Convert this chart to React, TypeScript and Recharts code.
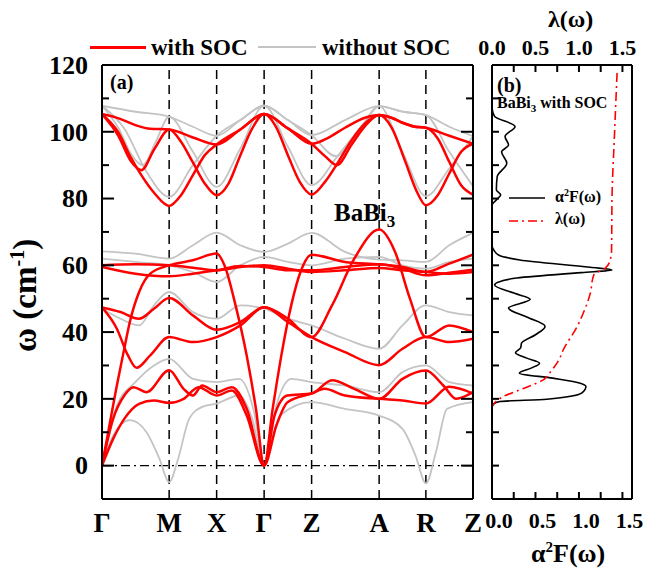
import React from 'react';
import { LineChart, Line, XAxis, YAxis, ReferenceLine } from 'recharts';

const FONT = '"Liberation Serif", "DejaVu Serif", "Times New Roman", serif';

// high-symmetry points along the path (fraction of path length)
const kPts = [0, 0.181, 0.309, 0.437, 0.565, 0.747, 0.873, 1];
const kLabels = ['Γ', 'M', 'X', 'Γ', 'Z', 'A', 'R', 'Z'];
const wTicks = [-10, 0, 10, 20, 30, 40, 50, 60, 70, 80, 90, 100, 110, 120];
const aTicks = [0, 0.25, 0.5, 0.75, 1, 1.25, 1.5];

// phonon branches with SOC, [k, omega]
const soc1 = [[0, 105.3], [0.045, 104], [0.09, 102], [0.13, 100.9], [0.181, 100.7], [0.245, 98.3], [0.309, 96.2], [0.373, 100.7], [0.437, 105.3], [0.501, 101], [0.565, 96.4], [0.601, 97.7], [0.655, 101.2], [0.709, 104.2], [0.747, 105], [0.78, 104.2], [0.81, 102.7], [0.84, 101.6], [0.873, 101.2], [0.936, 98.8], [1, 96.4]];
const soc2 = [[0, 105.3], [0.043, 99], [0.079, 91], [0.106, 88.5], [0.142, 95], [0.181, 100.7], [0.213, 97], [0.245, 90.8], [0.277, 84.5], [0.309, 81], [0.341, 84.5], [0.373, 93], [0.405, 101], [0.437, 105.3], [0.469, 101.5], [0.501, 93], [0.533, 85], [0.565, 81.2], [0.601, 85], [0.637, 91], [0.673, 97.5], [0.709, 102.5], [0.747, 105], [0.781, 101.2], [0.817, 91.2], [0.848, 82.2], [0.873, 78], [0.905, 81], [0.936, 87.5], [0.968, 94], [1, 96.4]];
const soc3 = [[0, 105.3], [0.043, 100], [0.079, 92], [0.106, 87], [0.142, 81.5], [0.181, 77.8], [0.213, 81], [0.245, 87], [0.277, 93], [0.309, 96.2], [0.373, 100.7], [0.437, 105.3], [0.501, 101], [0.565, 96.4], [0.601, 92.7], [0.633, 90], [0.673, 96.2], [0.709, 101.7], [0.747, 105], [0.78, 104.2], [0.81, 102.7], [0.84, 101.6], [0.873, 101.2], [0.905, 98], [0.936, 91], [0.968, 84], [1, 81.2]];
const socFlatA = [[0, 60], [0.09, 60.3], [0.181, 60], [0.245, 59.3], [0.309, 58.5], [0.373, 59.5], [0.437, 60], [0.501, 59], [0.565, 58], [0.655, 58.5], [0.747, 59.2], [0.81, 58.5], [0.873, 58], [0.936, 57.5], [1, 58]];
const socFlatB = [[0, 59.5], [0.09, 57.5], [0.181, 56.7], [0.245, 57.5], [0.309, 58.5], [0.373, 59.8], [0.437, 59.5], [0.501, 58.5], [0.565, 58.5], [0.655, 59.5], [0.747, 60.3], [0.81, 59], [0.873, 57], [0.936, 57.8], [1, 58.7]];
const socLA = [[0, 0], [0.02, 12], [0.04, 24], [0.06, 35], [0.075, 43], [0.1, 52], [0.13, 57.5], [0.181, 60], [0.245, 61.5], [0.309, 63.5], [0.33, 60], [0.36, 48], [0.39, 33], [0.415, 17], [0.437, 0], [0.46, 17], [0.485, 34], [0.51, 48], [0.535, 58], [0.565, 63.2], [0.655, 61], [0.747, 60.3], [0.81, 59.5], [0.873, 58], [0.936, 60.5], [1, 63.2]];
const socOptA = [[0, 47.4], [0.05, 46], [0.1, 44], [0.14, 47], [0.181, 50.2], [0.245, 45], [0.309, 40.7], [0.373, 43], [0.437, 47.4], [0.501, 44], [0.565, 38.5], [0.62, 48], [0.68, 62], [0.747, 70.7], [0.79, 64], [0.83, 50], [0.873, 38.5], [0.936, 42], [1, 40]];
const socOptB = [[0, 47.4], [0.04, 41], [0.07, 33], [0.093, 29.3], [0.13, 33], [0.181, 38.5], [0.245, 37], [0.309, 38.5], [0.373, 42], [0.437, 47.4], [0.501, 43], [0.565, 38.5], [0.655, 34], [0.747, 30.1], [0.81, 35], [0.873, 38.5], [0.936, 37], [1, 38]];
const socTA1 = [[0, 0], [0.03, 8], [0.06, 14], [0.1, 18.5], [0.14, 19.5], [0.181, 18.8], [0.22, 20], [0.26, 23.5], [0.309, 21], [0.35, 22.5], [0.39, 15], [0.437, 0], [0.47, 12], [0.5, 19], [0.565, 21.6], [0.6, 23], [0.655, 21], [0.747, 20], [0.81, 19.5], [0.873, 18.6], [0.936, 23.6], [1, 21.6]];
const socTA2 = [[0, 0], [0.03, 14], [0.06, 21], [0.085, 23.5], [0.12, 22], [0.181, 28.6], [0.22, 23], [0.245, 21], [0.27, 24], [0.309, 22], [0.35, 23.5], [0.39, 17], [0.437, 0], [0.465, 15], [0.5, 21], [0.565, 21.6], [0.62, 25.6], [0.68, 23], [0.747, 20], [0.81, 26], [0.873, 28.5], [0.92, 24], [0.955, 20], [1, 22]];

// branches without SOC
const noSoc1 = [[0, 107.8], [0.09, 106], [0.181, 104.5], [0.245, 101.5], [0.309, 98.8], [0.373, 103.5], [0.437, 107.8], [0.501, 103.5], [0.565, 99], [0.655, 103.5], [0.747, 107.7], [0.81, 106], [0.873, 105], [0.936, 101.5], [1, 98.7]];
const noSoc2 = [[0, 107.8], [0.045, 101], [0.08, 93], [0.11, 90], [0.145, 97], [0.181, 104.5], [0.245, 94], [0.309, 83.5], [0.373, 95], [0.437, 107.8], [0.501, 95.5], [0.565, 84], [0.637, 93], [0.709, 103], [0.747, 107.7], [0.81, 94], [0.873, 80.7], [0.936, 89], [1, 98.7]];
const noSoc3 = [[0, 107.8], [0.06, 101], [0.12, 88], [0.181, 80.5], [0.245, 90], [0.309, 98.8], [0.373, 103.5], [0.437, 107.8], [0.501, 103.5], [0.565, 99], [0.63, 92.7], [0.69, 100], [0.747, 107.7], [0.81, 106], [0.873, 105], [0.936, 94], [1, 83.7]];
const noSoc4 = [[0, 64.2], [0.09, 63.5], [0.181, 62], [0.245, 66], [0.309, 69.8], [0.373, 66], [0.437, 64], [0.501, 66.5], [0.565, 69.7], [0.655, 64], [0.747, 61.7], [0.81, 61.5], [0.873, 61], [0.936, 66], [1, 69.7]];
const noSoc5 = [[0, 62], [0.09, 61], [0.181, 60], [0.245, 58], [0.309, 55], [0.373, 60], [0.437, 62.5], [0.501, 61], [0.565, 60], [0.655, 62], [0.747, 62.5], [0.81, 60], [0.873, 59], [0.936, 61], [1, 62]];
const noSoc6 = [[0, 47], [0.05, 44], [0.1, 42], [0.14, 48], [0.181, 52], [0.245, 46], [0.309, 44], [0.373, 48], [0.437, 47], [0.501, 44], [0.565, 42], [0.655, 38], [0.747, 35], [0.81, 42], [0.873, 48], [0.936, 46], [1, 45]];
const noSoc7 = [[0, 0], [0.03, 9], [0.075, 13.6], [0.12, 10], [0.155, 2], [0.181, -5], [0.205, 2], [0.235, 14], [0.27, 17.6], [0.309, 18.6], [0.37, 21], [0.405, 14], [0.437, 0], [0.48, 15], [0.565, 19], [0.655, 17], [0.747, 15], [0.81, 11], [0.845, 3], [0.873, -5.3], [0.9, 4], [0.93, 17], [1, 19]];
const noSoc8 = [[0, 0], [0.04, 18], [0.09, 25], [0.14, 30], [0.181, 32], [0.245, 26], [0.309, 25], [0.37, 26], [0.41, 16], [0.437, 0], [0.47, 18], [0.51, 26], [0.565, 25], [0.655, 24], [0.747, 22], [0.81, 28], [0.873, 30], [0.936, 25], [1, 24]];

const socBands = [soc1, soc2, soc3, socFlatA, socFlatB, socLA, socOptA, socOptB, socTA1, socTA2];
const noSocBands = [noSoc1, noSoc2, noSoc3, noSoc4, noSoc5, noSoc6, noSoc7, noSoc8];

// Eliashberg function and lambda, [omega, value]
const a2F = [[17.5, 0], [18.5, 0.02], [19.2, 0.09], [19.9, 0.63], [21.7, 1.03], [23.7, 1.08], [24.7, 1.015], [26.2, 0.7], [27.7, 0.315], [29.2, 0.45], [30.7, 0.546], [32.2, 0.4], [33.8, 0.27], [35.3, 0.33], [36.7, 0.34], [39.2, 0.5], [41.7, 0.61], [44.5, 0.4], [47.2, 0.19], [49.8, 0.44], [51.6, 0.26], [54.1, 0.03], [56.1, 0.26], [57.8, 1.03], [58.6, 1.38], [59.4, 1.13], [61.6, 0.32], [63, 0.08], [64.6, 0.02], [66, 0], [78, 0], [79.6, 0.05], [81.1, 0.1], [82.6, 0.05], [86.6, 0.06], [90.6, 0.17], [94, 0.11], [96, 0.19], [98.6, 0.15], [101.6, 0.265], [104.6, 0.03], [107, 0]];
const lambda = [[0, 0], [17.5, 0], [18.5, 0.02], [19.9, 0.08], [20.7, 0.13], [22.5, 0.3], [24, 0.45], [25.7, 0.59], [27.7, 0.66], [31.7, 0.77], [34.7, 0.82], [41.7, 0.98], [45.7, 1.05], [51.6, 1.13], [57.1, 1.17], [59.1, 1.3], [61.6, 1.36], [64.6, 1.375], [80, 1.38], [100, 1.41], [118.5, 1.44]];

const toKW = (arr: number[][]) => arr.map(([k, w]) => ({ k, w }));
const toWA = (arr: number[][]) => arr.map(([w, a]) => ({ w, a }));

const PL = 102, PR = 473;
const QB = 499, QT = 65;

const LeftWTick = (props: any) => {
  const { y, payload } = props;
  const v = payload.value;
  const major = v % 20 === 0 && v >= 0;
  const len = major ? 12 : 7;
  return (
    <g>
      <line x1={PL} x2={PL + len} y1={y} y2={y} stroke="#000" strokeWidth={2} />
      <line x1={PR} x2={PR - len} y1={y} y2={y} stroke="#000" strokeWidth={2} />
      {major && (
        <text x={88} y={y} dy="0.34em" textAnchor="end" fontFamily={FONT} fontWeight="bold" fontSize={26} fill="#000">
          {v}
        </text>
      )}
    </g>
  );
};

const KTick = (props: any) => {
  const { x, payload } = props;
  const i = kPts.indexOf(payload.value);
  return (
    <text x={x} y={532} textAnchor="middle" fontFamily={FONT} fontWeight="bold" fontSize={27} fill="#000">
      {kLabels[i]}
    </text>
  );
};

const RightWTick = (props: any) => {
  const { y } = props;
  return <line x1={492} x2={499} y1={y} y2={y} stroke="#000" strokeWidth={2} />;
};

const fmt = (v: number) => v.toFixed(1);

const BottomATick = (props: any) => {
  const { x, payload } = props;
  const v = payload.value;
  const lab = Math.abs(v * 2 - Math.round(v * 2)) < 1e-6;
  return (
    <g>
      <line x1={x} x2={x} y1={QB} y2={QB - 7} stroke="#000" strokeWidth={2} />
      {lab && (
        <text x={x + 7} y={528} textAnchor="middle" fontFamily={FONT} fontWeight="bold" fontSize={22} fill="#000">
          {fmt(v)}
        </text>
      )}
    </g>
  );
};

const TopATick = (props: any) => {
  const { x, payload } = props;
  const v = payload.value;
  const lab = Math.abs(v * 2 - Math.round(v * 2)) < 1e-6;
  return (
    <g>
      <line x1={x} x2={x} y1={QT} y2={QT + 7} stroke="#000" strokeWidth={2} />
      {lab && (
        <text x={x} y={55} textAnchor="middle" fontFamily={FONT} fontWeight="bold" fontSize={22} fill="#000">
          {fmt(v)}
        </text>
      )}
    </g>
  );
};

const txt = (extra: React.CSSProperties): React.CSSProperties => ({
  position: 'absolute',
  fontFamily: FONT,
  fontWeight: 'bold',
  color: '#000',
  whiteSpace: 'nowrap',
  lineHeight: 1,
  ...extra,
});

export default function App() {
  return (
    <div style={{ position: 'absolute', left: 0, top: 0, width: 657, height: 569, background: '#fff', overflow: 'hidden' }}>
      <LineChart width={657} height={569} margin={{ top: 64, right: 183, bottom: 40, left: 52 }} style={{ position: 'absolute', left: 0, top: 0 }}>
        <XAxis dataKey="k" type="number" domain={[0, 1]} ticks={kPts} interval={0} tick={<KTick />} tickLine={false} height={30} axisLine={{ stroke: '#000', strokeWidth: 2 }} allowDataOverflow />
        <XAxis xAxisId="top" orientation="top" type="number" domain={[0, 1]} tick={false} tickLine={false} height={1} axisLine={{ stroke: '#000', strokeWidth: 2 }} />
        <YAxis type="number" domain={[-10, 120]} ticks={wTicks} interval={0} tick={<LeftWTick />} tickLine={false} width={50} axisLine={{ stroke: '#000', strokeWidth: 2 }} allowDataOverflow />
        <YAxis yAxisId="r" orientation="right" type="number" domain={[-10, 120]} tick={false} tickLine={false} width={1} axisLine={{ stroke: '#000', strokeWidth: 2 }} />
        {kPts.slice(1, -1).map((k, i) => (
          <ReferenceLine key={'v' + i} x={k} stroke="#000" strokeWidth={1.5} strokeDasharray="9 6" />
        ))}
        <ReferenceLine y={0} stroke="#000" strokeWidth={1.2} strokeDasharray="9 4 2 4" />
        {noSocBands.map((b, i) => (
          <Line key={'g' + i} data={toKW(b)} dataKey="w" type="monotone" stroke="#c4c4c4" strokeWidth={1.8} dot={false} isAnimationActive={false} />
        ))}
        {socBands.map((b, i) => (
          <Line key={'r' + i} data={toKW(b)} dataKey="w" type="monotone" stroke="#ff0000" strokeWidth={2.5} dot={false} isAnimationActive={false} />
        ))}
      </LineChart>

      <LineChart layout="vertical" width={657} height={569} margin={{ top: 35, right: 24, bottom: 40, left: 491 }} style={{ position: 'absolute', left: 0, top: 0 }}>
        <XAxis dataKey="a" type="number" domain={[0, 1.61]} ticks={aTicks} interval={0} tick={<BottomATick />} tickLine={false} height={30} axisLine={{ stroke: '#000', strokeWidth: 2 }} allowDataOverflow />
        <XAxis xAxisId="top" orientation="top" type="number" domain={[0, 1.61]} ticks={aTicks} interval={0} tick={<TopATick />} tickLine={false} height={30} axisLine={{ stroke: '#000', strokeWidth: 2 }} allowDataOverflow />
        <YAxis dataKey="w" type="number" reversed domain={[-10, 120]} ticks={wTicks} interval={0} tick={<RightWTick />} tickLine={false} width={1} axisLine={{ stroke: '#000', strokeWidth: 2 }} allowDataOverflow />
        <YAxis yAxisId="r" orientation="right" type="number" reversed domain={[-10, 120]} tick={false} tickLine={false} width={1} axisLine={{ stroke: '#000', strokeWidth: 2 }} />
        <Line data={toWA(a2F)} dataKey="a" type="monotoneY" stroke="#000" strokeWidth={1.6} dot={false} isAnimationActive={false} />
        <Line data={toWA(lambda)} xAxisId="top" dataKey="a" type="monotoneY" stroke="#ff0000" strokeWidth={1.6} strokeDasharray="9 4 2 4" dot={false} isAnimationActive={false} />
      </LineChart>

      {/* legend */}
      <div style={{ position: 'absolute', left: 90, top: 46, width: 56, borderTop: '3px solid #ff0000' }} />
      <div style={txt({ left: 151, top: 36, fontSize: 23 })}>with SOC</div>
      <div style={{ position: 'absolute', left: 258, top: 46, width: 58, borderTop: '2px solid #c4c4c4' }} />
      <div style={txt({ left: 322, top: 36, fontSize: 23 })}>without SOC</div>

      <div style={txt({ left: 548, top: 7, fontSize: 24 })}>λ(ω)</div>
      <div style={txt({ left: 531, top: 540, fontSize: 26 })}>
        α<sup style={{ fontSize: 15 }}>2</sup>F(ω)
      </div>

      <div style={txt({ left: 7, top: 352, fontSize: 33, transform: 'rotate(-90deg)', transformOrigin: '0 0' })}>
        ω (cm<sup style={{ fontSize: 20 }}>-1</sup>)
      </div>

      <div style={txt({ left: 110, top: 72, fontSize: 20 })}>(a)</div>
      <div style={txt({ left: 497, top: 75, fontSize: 20 })}>(b)</div>
      <div style={txt({ left: 497, top: 95, fontSize: 16 })}>
        BaBi<sub style={{ fontSize: 11 }}>3</sub> with SOC
      </div>
      <div style={txt({ left: 334, top: 200, fontSize: 25 })}>
        BaBi<sub style={{ fontSize: 17 }}>3</sub>
      </div>

      <svg width={657} height={569} style={{ position: 'absolute', left: 0, top: 0, pointerEvents: 'none' }}>
        <line x1={509} x2={545} y1={198} y2={198} stroke="#000" strokeWidth={1.6} />
        <line x1={509} x2={545} y1={221} y2={221} stroke="#ff0000" strokeWidth={1.6} strokeDasharray="9 4 2 4" />
      </svg>
      <div style={txt({ left: 555, top: 188, fontSize: 16 })}>
        α<sup style={{ fontSize: 10 }}>2</sup>F(ω)
      </div>
      <div style={txt({ left: 555, top: 211, fontSize: 16 })}>λ(ω)</div>
    </div>
  );
}
